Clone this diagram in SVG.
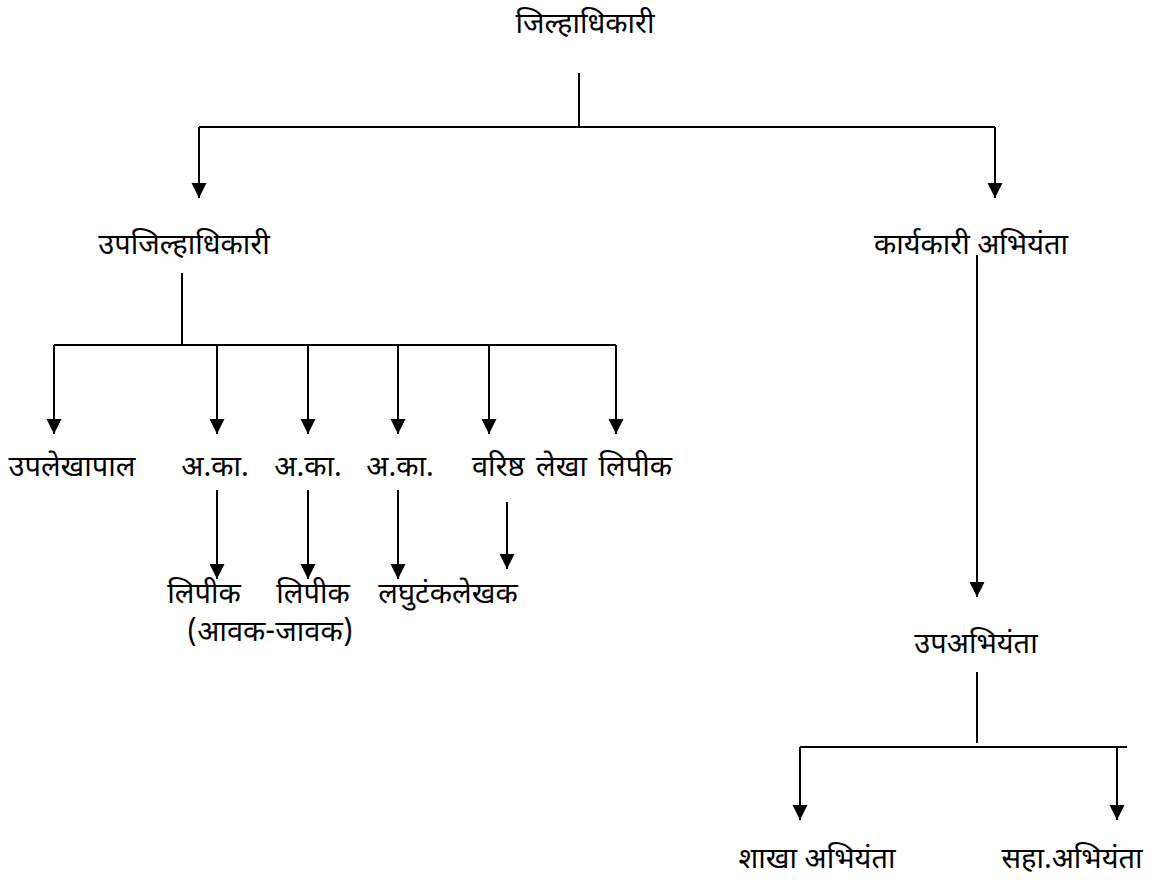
<svg xmlns="http://www.w3.org/2000/svg" width="1163" height="888" viewBox="0 0 1163 888">
<style>
text{font-family:"Noto Sans Devanagari","Noto Serif Devanagari","Lohit Devanagari","Mangal","FreeSerif","Noto Sans",sans-serif;font-size:29px;fill:#000;text-anchor:middle}
.c line{stroke:#000;stroke-width:2;fill:none}
.a{marker-end:url(#ah)}
</style>
<defs>
<marker id="ah" markerUnits="userSpaceOnUse" markerWidth="15" markerHeight="16" refX="15" refY="7.5" orient="auto" viewBox="0 0 15 15">
<path d="M0,0 L15,7.5 L0,15 z" fill="#000"/>
</marker>
</defs>
<rect width="1163" height="888" fill="#fff"/>
<g class="c" id="connectors">
<line x1="579" y1="73" x2="579" y2="127"/>
<line x1="199" y1="127" x2="995" y2="127"/>
<line class="a" x1="199" y1="127" x2="199" y2="198"/>
<line class="a" x1="995" y1="127" x2="995" y2="198"/>
<line x1="182" y1="273" x2="182" y2="345"/>
<line x1="54" y1="345" x2="616" y2="345"/>
<line class="a" x1="54" y1="345" x2="54" y2="434"/>
<line class="a" x1="217" y1="345" x2="217" y2="434"/>
<line class="a" x1="308" y1="345" x2="308" y2="434"/>
<line class="a" x1="398" y1="345" x2="398" y2="434"/>
<line class="a" x1="489" y1="345" x2="489" y2="434"/>
<line class="a" x1="616" y1="345" x2="616" y2="434"/>
<line class="a" x1="217" y1="490" x2="217" y2="579"/>
<line class="a" x1="308" y1="490" x2="308" y2="579"/>
<line class="a" x1="398" y1="490" x2="398" y2="579"/>
<line class="a" x1="507" y1="502" x2="507" y2="569"/>
<line class="a" x1="977" y1="255" x2="977" y2="597"/>
<line x1="977" y1="672" x2="977" y2="743"/>
<line x1="800" y1="747" x2="1127" y2="747"/>
<line class="a" x1="800" y1="747" x2="800" y2="820"/>
<line class="a" x1="1117" y1="747" x2="1117" y2="820"/>
</g>
<g id="n-jilhadhikari"><text x="585" y="33">जिल्हाधिकारी</text></g>
<g id="n-upajilhadhikari"><text x="184" y="254">उपजिल्हाधिकारी</text></g>
<g id="n-karyakari"><text x="971" y="254">कार्यकारी अभियंता</text></g>
<g id="n-upalekhapal"><text x="72" y="476">उपलेखापाल</text></g>
<g id="n-aka1"><text x="215" y="476">अ.का.</text></g>
<g id="n-aka2"><text x="308" y="476">अ.का.</text></g>
<g id="n-aka3"><text x="400" y="476">अ.का.</text></g>
<g id="n-varishtha"><text x="572" y="476" word-spacing="4">वरिष्ठ लेखा लिपीक</text></g>
<g id="n-lipik1"><text x="204" y="603">लिपीक</text><text x="270" y="641">(आवक-जावक)</text></g>
<g id="n-lipik2"><text x="313" y="603">लिपीक</text></g>
<g id="n-laghu"><text x="448" y="603">लघुटंकलेखक</text></g>
<g id="n-upabhiyanta"><text x="976" y="653">उपअभियंता</text></g>
<g id="n-shakha"><text x="817" y="868">शाखा अभियंता</text></g>
<g id="n-saha"><text x="1072" y="868">सहा.अभियंता</text></g>
</svg>
